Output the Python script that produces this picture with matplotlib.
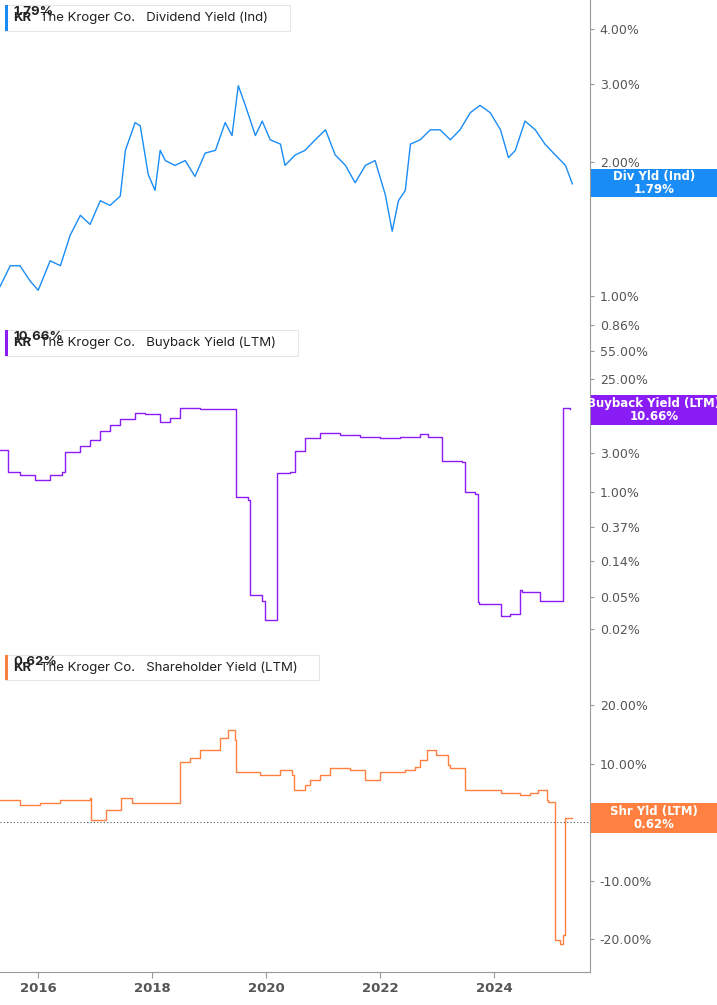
import matplotlib
matplotlib.use("Agg")
import matplotlib.pyplot as plt
from matplotlib.patches import Rectangle
import numpy as np

# x positions are given in fractional years
div_t = [2015.33,2015.51,2015.68,2015.86,2016.0,2016.21,2016.39,2016.56,2016.74,2016.91,2017.09,2017.26,2017.44,2017.53,2017.70,2017.79,2017.93,2018.05,2018.14,2018.23,2018.40,2018.58,2018.75,2018.93,2019.11,2019.28,2019.40,2019.51,2019.63,2019.81,2019.93,2020.07,2020.25,2020.33,2020.51,2020.68,2020.86,2021.04,2021.21,2021.39,2021.56,2021.74,2021.91,2022.09,2022.21,2022.32,2022.44,2022.53,2022.70,2022.88,2023.05,2023.23,2023.40,2023.58,2023.75,2023.93,2024.11,2024.25,2024.37,2024.54,2024.72,2024.89,2025.07,2025.25,2025.37]
div_v = [1.05,1.17,1.17,1.08,1.03,1.20,1.17,1.37,1.52,1.45,1.64,1.60,1.68,2.13,2.46,2.42,1.88,1.73,2.13,2.02,1.97,2.02,1.86,2.10,2.13,2.46,2.30,2.98,2.70,2.30,2.48,2.25,2.20,1.97,2.08,2.13,2.25,2.37,2.08,1.97,1.80,1.97,2.02,1.69,1.40,1.64,1.73,2.20,2.25,2.37,2.37,2.25,2.37,2.59,2.69,2.59,2.37,2.05,2.13,2.48,2.37,2.20,2.08,1.97,1.79]

bb_t = [2015.33,2015.42,2015.47,2015.68,2015.95,2016.21,2016.42,2016.47,2016.74,2016.91,2017.09,2017.26,2017.44,2017.70,2017.88,2018.14,2018.32,2018.49,2018.84,2019.19,2019.45,2019.47,2019.68,2019.72,2019.93,2019.98,2020.17,2020.19,2020.42,2020.51,2020.68,2020.95,2021.30,2021.65,2022.00,2022.35,2022.70,2022.84,2023.09,2023.44,2023.49,2023.67,2023.72,2023.74,2024.11,2024.28,2024.46,2024.49,2024.81,2024.95,2025.19,2025.21,2025.33]
bb_v = [3.24,3.24,1.74,1.60,1.40,1.60,1.74,3.10,3.70,4.30,5.70,6.60,8.00,9.30,9.00,7.30,8.20,10.7,10.4,10.4,10.4,0.85,0.78,0.053,0.045,0.026,0.026,1.68,1.75,3.20,4.60,5.30,5.00,4.80,4.60,4.80,5.10,4.80,2.40,2.35,0.98,0.94,0.043,0.041,0.029,0.031,0.061,0.058,0.044,0.044,0.044,10.7,10.66]

sh_t = [2015.33,2015.68,2016.03,2016.39,2016.91,2016.93,2017.17,2017.19,2017.44,2017.46,2017.61,2017.65,2018.46,2018.49,2018.67,2018.84,2019.19,2019.33,2019.45,2019.47,2019.89,2020.25,2020.46,2020.49,2020.68,2020.77,2020.95,2021.12,2021.47,2021.74,2022.00,2022.26,2022.44,2022.61,2022.70,2022.82,2022.98,2023.19,2023.23,2023.49,2024.11,2024.46,2024.63,2024.77,2024.93,2024.95,2025.07,2025.16,2025.21,2025.25,2025.37]
sh_v = [3.7,2.9,3.2,3.7,4.1,0.3,0.3,2.0,2.0,4.1,4.2,3.2,3.2,10.2,10.9,12.3,14.3,15.7,14.0,8.5,8.0,8.9,8.0,5.5,6.3,7.2,8.0,9.2,8.9,7.2,8.5,8.5,8.9,9.4,10.6,12.3,11.5,9.7,9.2,5.5,4.9,4.6,4.9,5.5,3.7,3.4,-20.1,-20.9,-19.2,0.62,0.62]

BLUE = "#1a8cf5"
PURPLE = "#8a1df5"
ORANGE = "#ff8040"
GRID = "#bbbbbb"

W, H = 717, 1005
fig = plt.figure(figsize=(W/100, H/100), dpi=100)
xr = 590 / W
xmin, xmax = 2015.33, 2025.68

def mkax(top, bot):
    ax = fig.add_axes([0, 1 - bot/H, xr, (bot-top)/H])
    ax.set_xlim(xmin, xmax)
    ax.yaxis.tick_right()
    for s in ["left", "top", "bottom"]:
        ax.spines[s].set_visible(False)
    ax.spines["right"].set_color("#999999")
    ax.tick_params(axis="y", colors="#999999", labelcolor="#555555", labelsize=9, length=3, direction="out", pad=4)
    ax.tick_params(axis="x", bottom=False, labelbottom=False)
    ax.minorticks_off()
    return ax

def legend(ax, color, name, val):
    t = ax.text(0.022, 0.945, f"KR   The Kroger Co.   {name}   ", transform=ax.transAxes, fontsize=9.5,
                fontfamily="Inter", color="#222222", va="center", ha="left")
    t2 = ax.annotate(val, xy=(0, 0), xycoords=t, xytext=(0, 0), textcoords="offset points",
                     fontsize=9.5, fontfamily="Inter", color="#222222", fontweight="bold", va="bottom", ha="left")
    fig.canvas.draw()
    bb = t.get_window_extent().union([t.get_window_extent(), t2.get_window_extent()])
    inv = ax.transAxes.inverted()
    (x0, y0), (x1, y1) = inv.transform([[bb.x0, bb.y0], [bb.x1, bb.y1]])
    ax.add_patch(Rectangle((0.008, y0 - 0.02), x1 - 0.008 + 0.015, (y1 - y0) + 0.04, transform=ax.transAxes,
                           facecolor="white", edgecolor="#e6e6e6", lw=0.8, zorder=4))
    ax.add_patch(Rectangle((0.008, y0 - 0.02), 0.006, (y1 - y0) + 0.04, transform=ax.transAxes,
                           facecolor=color, edgecolor="none", zorder=5))
    t.set_zorder(6); t2.set_zorder(6)
    # make bold KR
    t.set_text("")
    ax.text(x0, 0.945, "KR", transform=ax.transAxes, fontsize=9.5, fontfamily="Inter", fontweight="bold",
            color="#222222", va="center", ha="left", zorder=6)
    ax.text(x0 + 0.045, 0.945, f"The Kroger Co.   {name}", transform=ax.transAxes, fontsize=9.5,
            fontfamily="Inter", color="#222222", va="center", ha="left", zorder=6)

def tag(ax, yval, color, txt):
    ax.annotate(txt, xy=(1.0, yval), xycoords=("axes fraction", "data"), xytext=(63, 0), textcoords="offset points",
                ha="center", va="center", fontsize=8.5, fontweight="bold", color="white", fontfamily="Inter",
                linespacing=1.0, annotation_clip=False,
                bbox=dict(boxstyle="square,pad=0.35", fc=color, ec="none"), zorder=10)

# Panel 1
ax1 = mkax(0, 325)
ax1.set_yscale("log")
ax1.set_ylim(0.86, 4.65)
ax1.plot(div_t, div_v, color=BLUE, lw=1.0)
t1 = [0.86, 1.0, 2.0, 3.0, 4.0]
ax1.set_yticks(t1); ax1.set_yticklabels([f"{v:.2f}%" for v in t1])
ax1.minorticks_off()
legend(ax1, BLUE, "Dividend Yield (Ind)", "1.79%")
ax1.annotate("Div Yld (Ind)\n1.79%", xy=(1.0, 1.79), xycoords=("axes fraction", "data"), xytext=(2, 0),
             textcoords="offset points", ha="left", va="center", fontsize=8.5, fontweight="bold", color="white",
             annotation_clip=False, zorder=10)
ax1.add_patch(Rectangle((1.0, 0), 127/590, 1, transform=ax1.transAxes, visible=False))

# Panel 2
ax2 = mkax(325, 650)
ax2.set_yscale("log")
ax2.set_ylim(0.011, 115)
ax2.plot(bb_t, bb_v, color=PURPLE, lw=1.0, drawstyle="steps-post")
t2 = [0.02, 0.05, 0.14, 0.37, 1.0, 3.0, 8.0, 25.0, 55.0]
ax2.set_yticks(t2); ax2.set_yticklabels([f"{v:.2f}%" for v in t2])
ax2.minorticks_off()
legend(ax2, PURPLE, "Buyback Yield (LTM)", "10.66%")

# Panel 3
ax3 = mkax(650, 972)
ax3.set_ylim(-25.6, 29.4)
ax3.plot(sh_t, sh_v, color=ORANGE, lw=1.0, drawstyle="steps-post")
t3 = [-20, -10, 0, 10, 20]
ax3.set_yticks(t3); ax3.set_yticklabels([f"{v:.2f}%" for v in t3])
ax3.axhline(0, color="#555555", lw=0.8, ls=(0, (1, 2)))
legend(ax3, ORANGE, "Shareholder Yield (LTM)", "0.62%")
ax3.spines["bottom"].set_visible(True)
ax3.spines["bottom"].set_color("#999999")
ax3.tick_params(axis="x", bottom=True, labelbottom=True, colors="#999999", labelcolor="#555555", labelsize=9.5, length=4)
ax3.set_xticks([2016, 2018, 2020, 2022, 2024])
ax3.set_xticklabels(["2016", "2018", "2020", "2022", "2024"], fontweight="bold")

# separators
for ax in (ax1, ax2):
    ax.spines["bottom"].set_visible(True)
    ax.spines["bottom"].set_color("#cccccc")

# right-side tags as figure patches
def figtag(ycenter_px, h_px, color, txt):
    fig.patches.append(Rectangle((591/W, 1 - (ycenter_px + h_px/2)/H), 126/W, h_px/H, transform=fig.transFigure,
                                 facecolor=color, edgecolor="none", zorder=10))
    fig.text(654/W, 1 - ycenter_px/H, txt, ha="center", va="center", fontsize=8.5, fontweight="bold",
             color="white", linespacing=1.0, zorder=11)

ax1.texts[-1].remove()
figtag(183, 28, BLUE, "Div Yld (Ind)\n1.79%")
figtag(410, 30, PURPLE, "Buyback Yield (LTM)\n10.66%")
figtag(818, 30, ORANGE, "Shr Yld (LTM)\n0.62%")

fig.savefig("out.png", dpi=100)
